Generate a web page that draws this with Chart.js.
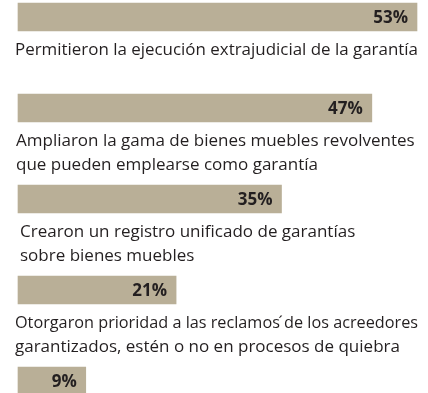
<!DOCTYPE html>
<html>
<head>
<meta charset="utf-8">
<script src="https://cdn.jsdelivr.net/npm/chart.js@4.4.0/dist/chart.umd.min.js"></script>
<style>
  html, body { margin: 0; padding: 0; background: #fff; overflow: hidden; }
  .chart__wrap { position: relative; width: 428px; height: 393px; }
</style>
</head>
<body>
<div class="chart__wrap"><canvas id="myChart"></canvas></div>
<script>
// ===== data =====
const categories = [
  ["Permitieron la ejecución extrajudicial de la garantía"],
  ["Ampliaron la gama de bienes muebles revolventes", "que pueden emplearse como garantía"],
  ["Crearon un registro unificado de garantías", "sobre bienes muebles"],
  ["Otorgaron prioridad a las reclamos \u0301de los acreedores", "garantizados, estén o no en procesos de quiebra"],
  [""],
];
const values = [53, 47, 35, 21, 9];
const valueLabels = ["53%", "47%", "35%", "21%", "9%"];

// left edge of each description block
const labelIndent = [15, 16, 20, 15, 15];

const FONT = "'Open Sans', 'Noto Sans', sans-serif";

// draws the % inside each bar and the description under it
const barText = {
  id: "barText",
  afterDatasetsDraw(chart) {
    const ctx = chart.ctx;
    const bars = chart.getDatasetMeta(0).data;
    ctx.save();
    bars.forEach((bar, i) => {
      ctx.fillStyle = "#231f20";
      ctx.font = "bold 17px " + FONT;
      ctx.textAlign = "right";
      ctx.textBaseline = "alphabetic";
      ctx.fillText(valueLabels[i], bar.x - 9, bar.y + 6);

      ctx.font = "17px " + FONT;
      ctx.textAlign = "left";
      categories[i].forEach((line, k) => {
        // long lines get squeezed a little so they stay on the page
        ctx.fillText(line, labelIndent[i], bar.y + 38 + k * 24, 403);
      });
    });
    ctx.restore();
  },
};

let myChart = document.getElementById("myChart").getContext("2d");
let barChart = new Chart(myChart, {
  type: "bar",
  data: {
    labels: categories.map((c) => c.join(" ")),
    datasets: [
      {
        data: values,
        backgroundColor: "#b9af97",
        barThickness: 28,
        clip: false,
      },
    ],
  },
  options: {
    indexAxis: "y",
    responsive: true,
    maintainAspectRatio: false,
    animation: false,
    layout: {
      padding: { left: 18, right: 11, top: 17, bottom: 12 },
    },
    scales: {
      x: { display: false, min: 0, max: 53 },
      y: { display: false, offset: false },
    },
    plugins: {
      legend: { display: false },
      tooltip: { enabled: false },
    },
  },
  plugins: [barText],
});
</script>
</body>
</html>
